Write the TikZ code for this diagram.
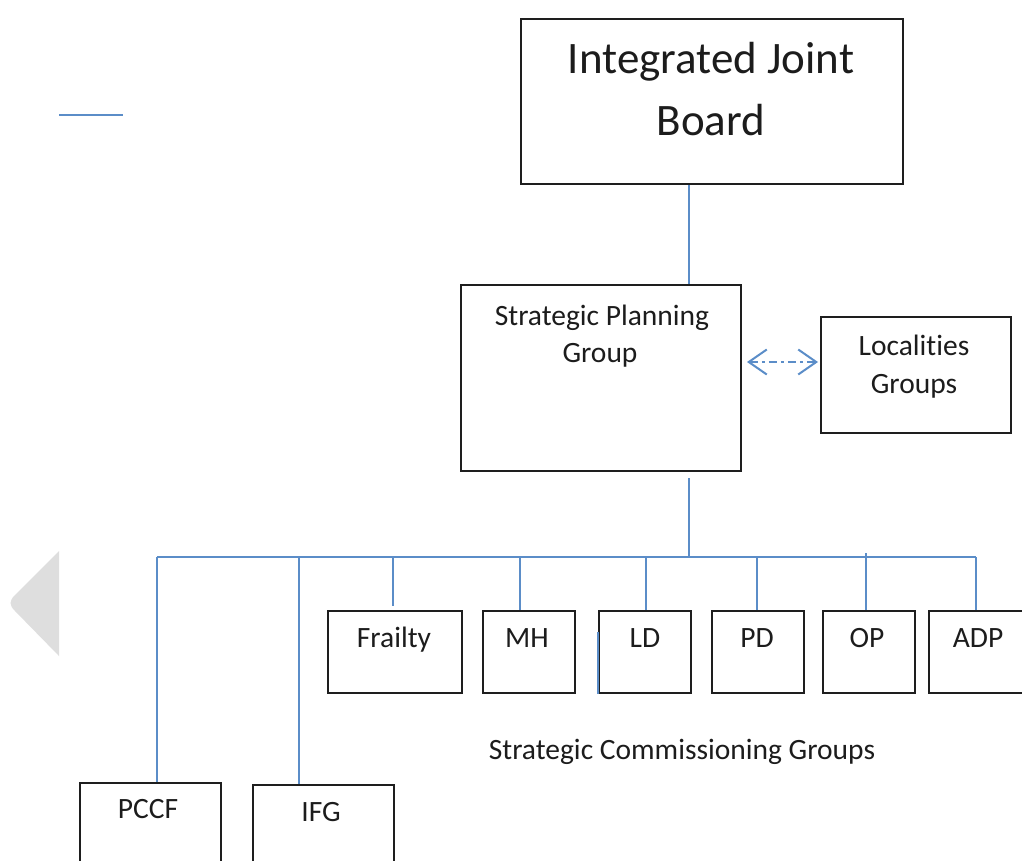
\documentclass[tikz,border=0pt]{standalone}
\usepackage{fontspec}
\setmainfont{Carlito}[Ligatures=NoCommon]
\usetikzlibrary{arrows.meta}
\definecolor{linkblue}{HTML}{5B8DC8}
\definecolor{boxline}{HTML}{1E1E1E}
\definecolor{inkdark}{HTML}{1C1C1C}
\definecolor{navgray}{HTML}{DEDEDE}
\begin{document}
\begin{tikzpicture}[x=1pt,y=-1pt,
  orgbox/.style={draw=boxline,line width=2.2pt,rectangle,inner sep=0pt,anchor=north west},
  conn/.style={draw=linkblue,line width=2pt},
  small/.style={font=\fontsize{29.5}{36}\selectfont,text=inkdark,inner sep=0pt,anchor=base},
  large/.style={font=\fontsize{45}{54}\selectfont,text=inkdark,inner sep=0pt,anchor=base},
  barb/.tip={Straight Barb[length=18pt,width=25pt]}]
\useasboundingbox (0,0) rectangle (1022,860);
\clip (0,0) rectangle (1022,860);

% stray rule and page-navigation arrow
\coordinate (ruleA) at (59,115);
\coordinate (ruleB) at (123,115);
\draw[conn] (ruleA) -- (ruleB);
\fill[navgray] (59,551) -- (15,595) .. controls (9,601) and (9,605) .. (15,611) -- (59,656) -- cycle;

% boxes
\node[orgbox,minimum width=382pt,minimum height=165pt] (ijb) at (520,18) {};
\node[orgbox,minimum width=280pt,minimum height=186pt] (spg) at (460,284) {};
\node[orgbox,minimum width=190pt,minimum height=116pt] (loc) at (820,316) {};
\node[orgbox,minimum width=134pt,minimum height=82pt] (frailty) at (327,610) {};
\node[orgbox,minimum width=92pt,minimum height=82pt] (mh) at (482,610) {};
\node[orgbox,minimum width=92pt,minimum height=82pt] (ld) at (598,610) {};
\node[orgbox,minimum width=92pt,minimum height=82pt] (pd) at (711,610) {};
\node[orgbox,minimum width=92pt,minimum height=82pt] (op) at (822,610) {};
\node[orgbox,minimum width=110pt,minimum height=82pt] (adp) at (928,610) {};
\node[orgbox,minimum width=141pt,minimum height=120pt] (pccf) at (79,782) {};
\node[orgbox,minimum width=141pt,minimum height=120pt] (ifg) at (252,784) {};

% labels
\node[large] (ijbA) at (711,73) {Integrated Joint};
\node[large] (ijbB) at (711,135) {Board};
\node[small] (spgA) at (602,325) {Strategic Planning};
\node[small] (spgB) at (600,362) {Group};
\node[small] (locA) at (914,355) {Localities};
\node[small] (locB) at (914,393) {Groups};
\node[small] (tFrailty) at (394,647) {Frailty};
\node[small] (tMH) at (527,647) {MH};
\node[small] (tLD) at (645,647) {LD};
\node[small] (tPD) at (757,647) {PD};
\node[small] (tOP) at (867,647) {OP};
\node[small] (tADP) at (978,647) {ADP};
\node[small] (tPCCF) at (148,818) {PCCF};
\node[small] (tIFG) at (321,821) {IFG};
\node[small] (scg) at (682,759) {Strategic Commissioning Groups};

% connectors
\coordinate (trunk) at (689,0);
\coordinate (busL) at (157,557);
\coordinate (busR) at (976,557);
\draw[conn] (ijb.south -| trunk) -- (spg.north -| trunk);
\draw[conn] ([yshift=-6pt]spg.south -| trunk) -- (trunk |- busL);
\draw[conn] (busL) -- (busR);
\draw[conn] (busL) -- (pccf.north -| busL);
\draw[conn] (299,557) -- (ifg.north -| 299,0);
\draw[conn] (393,557) -- ([yshift=4pt]frailty.north -| 393,0);
\draw[conn] (520,557) -- (mh.north -| 520,0);
\draw[conn] (646,557) -- (ld.north -| 646,0);
\draw[conn] (757,557) -- (pd.north -| 757,0);
\draw[conn] (866,553) -- (op.north -| 866,0);
\draw[conn] (busR) -- (adp.north -| busR);
\draw[conn] ([yshift=62pt]ld.south west) -- (ld.south west);

% link to the localities groups
\coordinate (linkL) at (747,362);
\coordinate (linkR) at (818,362);
\draw[conn,line width=2pt,dash pattern=on 8pt off 4pt on 3pt off 4pt,{barb}-{barb}]
  (linkL) -- (linkR);
\end{tikzpicture}
\end{document}
